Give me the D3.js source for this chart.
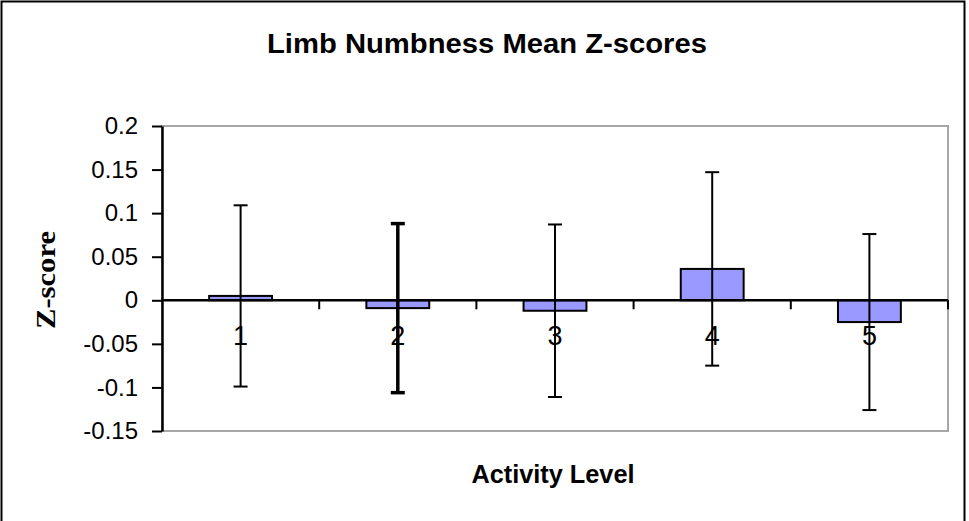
<!DOCTYPE html>
<html>
<head>
<meta charset="utf-8">
<script src="https://cdn.jsdelivr.net/npm/d3@7"></script>
<style>
  html, body { margin: 0; padding: 0; background: #fff; }
  svg { display: block; }
</style>
</head>
<body>
<svg id="chart" width="969" height="521"></svg>
<script>
const categories = ["1", "2", "3", "4", "5"];
const means = [0.005, -0.009, -0.012, 0.036, -0.025];
const errors = [0.104, 0.097, 0.099, 0.111, 0.101];
const yTicks = [0.2, 0.15, 0.1, 0.05, 0, -0.05, -0.1, -0.15];
const yTickLabels = ["0.2", "0.15", "0.1", "0.05", "0", "-0.05", "-0.1", "-0.15"];
const titleText = "Limb Numbness Mean Z-scores";
const xTitle = "Activity Level";
const yTitle = "Z-score";

const svg = d3.select("#chart");
const W = 969, H = 521;
const plot = { left: 162, right: 948, top: 126, bottom: 431 };

// outer frame
svg.append("rect")
  .attr("x", 1.5).attr("y", 1.5)
  .attr("width", 963).attr("height", 540)
  .attr("fill", "#fff").attr("stroke", "#000").attr("stroke-width", 2);

const x = d3.scaleBand().domain(categories)
  .range([plot.left, plot.right]).paddingInner(0.6).paddingOuter(0.3);
const y = d3.scaleLinear().domain([-0.15, 0.2]).range([plot.bottom, plot.top]);

// plot area border (grey)
svg.append("rect")
  .attr("x", plot.left).attr("y", plot.top)
  .attr("width", plot.right - plot.left).attr("height", plot.bottom - plot.top)
  .attr("fill", "#fff").attr("stroke", "#a6a6a6").attr("stroke-width", 2);

// bars
svg.append("g").selectAll("rect").data(categories).join("rect")
  .attr("x", d => x(d))
  .attr("width", x.bandwidth())
  .attr("y", (d, i) => y(Math.max(0, means[i])))
  .attr("height", (d, i) => Math.abs(y(means[i]) - y(0)))
  .attr("fill", "#9999ff").attr("stroke", "#000").attr("stroke-width", 2);

// y axis
const yAxis = d3.axisLeft(y)
  .tickValues(yTicks)
  .tickFormat((d, i) => yTickLabels[i])
  .tickSize(10).tickPadding(14).tickSizeOuter(0);
const gy = svg.append("g").attr("transform", `translate(${plot.left},0)`).call(yAxis);
gy.select(".domain").attr("stroke", "#000").attr("stroke-width", 2.5);
gy.selectAll(".tick line").attr("stroke", "#000").attr("stroke-width", 2);
gy.selectAll(".tick text")
  .attr("fill", "#000")
  .style("font-family", "'Liberation Sans', Arial, sans-serif")
  .style("font-size", "24px");

// zero line
svg.append("line")
  .attr("x1", plot.left).attr("x2", plot.right)
  .attr("y1", y(0)).attr("y2", y(0))
  .attr("stroke", "#000").attr("stroke-width", 2.5);

// category boundary ticks
const step = x.step();
const boundaries = categories.slice(1).map(c => x(c) - (step - x.bandwidth()) / 2);
boundaries.push(plot.right);
svg.append("g").selectAll("line").data(boundaries).join("line")
  .attr("x1", d => d).attr("x2", d => d)
  .attr("y1", y(0)).attr("y2", y(0) + 9)
  .attr("stroke", "#000").attr("stroke-width", 2);

// category labels
svg.append("g").selectAll("text").data(categories).join("text")
  .attr("x", d => x(d) + x.bandwidth() / 2)
  .attr("y", y(0) + 45)
  .attr("text-anchor", "middle")
  .style("font-family", "'Liberation Sans', Arial, sans-serif")
  .style("font-size", "27px")
  .attr("fill", "#000")
  .text(d => d);

// error bars
const eg = svg.append("g");
categories.forEach((c, i) => {
  const cx = x(c) + x.bandwidth() / 2;
  const top = y(means[i] + errors[i]);
  const bot = y(means[i] - errors[i]);
  const sw = i === 1 ? 3.5 : 2;
  eg.append("line").attr("x1", cx).attr("x2", cx).attr("y1", top).attr("y2", bot)
    .attr("stroke", "#000").attr("stroke-width", sw);
  [top, bot].forEach(v => {
    eg.append("line").attr("x1", cx - 7).attr("x2", cx + 7).attr("y1", v).attr("y2", v)
      .attr("stroke", "#000").attr("stroke-width", sw);
  });
});

// title
svg.append("text")
  .attr("x", 487).attr("y", 53)
  .attr("text-anchor", "middle")
  .attr("textLength", 440).attr("lengthAdjust", "spacingAndGlyphs")
  .style("font-family", "'Liberation Sans', Arial, sans-serif")
  .style("font-size", "27px").style("font-weight", "bold")
  .text(titleText);

// x title
svg.append("text")
  .attr("x", 553).attr("y", 483)
  .attr("text-anchor", "middle")
  .attr("textLength", 163).attr("lengthAdjust", "spacingAndGlyphs")
  .style("font-family", "'Liberation Sans', Arial, sans-serif")
  .style("font-size", "25px").style("font-weight", "bold")
  .text(xTitle);

// y title
svg.append("text")
  .attr("transform", "translate(55,280) rotate(-90)")
  .attr("text-anchor", "middle")
  .attr("textLength", 98).attr("lengthAdjust", "spacingAndGlyphs")
  .style("font-family", "'Liberation Serif', 'Times New Roman', serif")
  .style("font-size", "28px").style("font-weight", "bold")
  .text(yTitle);
</script>
</body>
</html>
